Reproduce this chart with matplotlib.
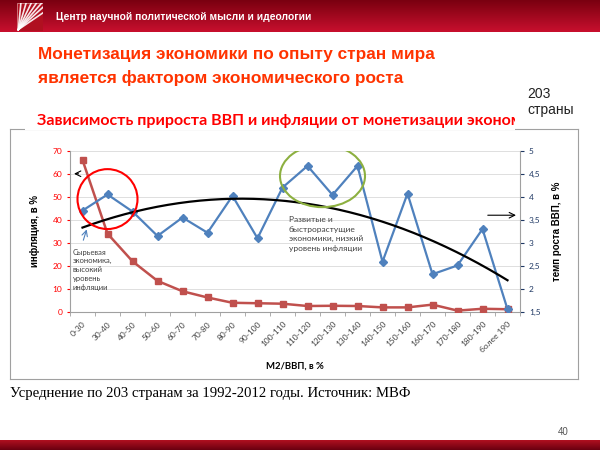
import numpy as np
import matplotlib
matplotlib.use("Agg")
import matplotlib.pyplot as plt
import matplotlib.patches as patches

plt.rcParams['font.family'] = ['Liberation Sans', 'DejaVu Sans']

# data
categories = ["0-30", "30-40", "40-50", "50-60", "60-70", "70-80", "80-90",
              "90-100", "100-110", "110-120", "120-130", "130-140", "140-150",
              "150-160", "160-170", "170-180", "180-190", "более 190"]
inflation = [66, 34, 22, 13.5, 9, 6.3, 4, 3.8, 3.6, 2.6, 2.7, 2.6, 2.0, 2.0,
             3.2, 0.6, 1.4, 1.2]
gdp_growth = [3.70, 4.05, 3.68, 3.15, 3.55, 3.22, 4.02, 3.10, 4.20, 4.67, 4.04,
              4.67, 2.59, 4.07, 2.32, 2.51, 3.30, 1.56]
left_ticks = [0, 10, 20, 30, 40, 50, 60, 70]
right_ticks = [1.5, 2, 2.5, 3, 3.5, 4, 4.5, 5]

W, H = 600, 450
RED = "#FF3300"
BLUE = "#4F81BD"
DARKRED = "#C0504D"
CAL = ["Lato", "DejaVu Sans"]


def fx(px):
    return px / W


def fy(py):
    return 1 - py / H


fig = plt.figure(figsize=(6, 4.5), dpi=100)
fig.patch.set_facecolor("white")

# header band with gradient
hdr = fig.add_axes([0, fy(32), 1, 32 / H])
grad = np.linspace(0, 1, 50).reshape(-1, 1)
hdr.imshow(grad, aspect="auto", cmap=matplotlib.colors.LinearSegmentedColormap.from_list(
    "h", ["#7A0010", "#C8102E"]), extent=[0, 1, 0, 1])
hdr.axis("off")
fig.text(fx(56), fy(17), "Центр научной политической мысли и идеологии",
         color="white", fontsize=7.4, fontweight="bold", va="center")
# logo
logo = fig.add_axes([fx(17), fy(31), 26 / W, 28 / H])
logo.set_xlim(0, 1)
logo.set_ylim(0, 1)
logo.add_patch(patches.Rectangle((0, 0), 1, 1, facecolor="#B01020",
                                 edgecolor="#E0A0A0", lw=0.5))
for a in np.linspace(0.15, 1.35, 7):
    logo.plot([0.05, min(a, 1)], [0.05, min(1, 1 - (a - 1)) if a > 1 else 1],
              color="white", lw=1.2, alpha=0.9)
logo.axis("off")

# bottom band
bot = fig.add_axes([0, 0, 1, 10 / H])
bot.imshow(grad[::-1], aspect="auto", cmap=matplotlib.colors.LinearSegmentedColormap.from_list(
    "b", ["#6A0010", "#B01020"]), extent=[0, 1, 0, 1])
bot.axis("off")

# titles
fig.text(fx(38), fy(55), "Монетизация экономики по опыту стран мира",
         color=RED, fontsize=12.4, fontweight="bold", va="center")
fig.text(fx(38), fy(78), "является фактором экономического роста",
         color=RED, fontsize=12.4, fontweight="bold", va="center")
fig.text(fx(527), fy(102), "203\nстраны", color="#222222", fontsize=10,
         va="center", linespacing=1.2)

# frame around chart
frame = fig.add_axes([fx(10), fy(379), 568 / W, 250 / H])
frame.set_xticks([])
frame.set_yticks([])
for s in frame.spines.values():
    s.set_color("#A0A0A0")
    s.set_linewidth(0.8)
frame.patch.set_alpha(0)

# subtitle clipped at the right edge
sub = fig.add_axes([0, fy(132), fx(515), 22 / H])
sub.axis("off")
sub.set_xlim(0, 515)
sub.set_ylim(0, 1)
sub.add_patch(patches.Rectangle((25, 0.1), 490, 0.9, facecolor="white",
                                edgecolor="none"))
sub.text(37, 0.5, "Зависимость прироста ВВП и инфляции от монетизации экономики",
         color="#FF0000", fontsize=11.5, fontweight="bold", va="center",
         family=CAL, clip_on=True)

# main chart
ax = fig.add_axes([fx(70), fy(312), 450 / W, 161.3 / H])
x = np.arange(len(categories))
ax.set_xlim(-0.5, len(categories) - 0.5)
ax.set_ylim(0, 70)
ax.set_yticks(left_ticks)
ax.yaxis.grid(True, color="#D9D9D9", lw=0.6)
ax.set_axisbelow(True)
ax.tick_params(axis="y", colors="#FF0000", labelsize=6, length=2)
for lab in ax.get_yticklabels():
    lab.set_family(CAL)
ax.set_xticks(x)
ax.set_xticklabels(categories, rotation=45, ha="right", rotation_mode="anchor",
                   fontsize=6, color="#404040", family=CAL)
ax.set_xticks(np.arange(-0.5, len(categories), 1), minor=True)
ax.tick_params(axis="x", which="major", length=0, pad=6)
ax.tick_params(axis="x", which="minor", length=3, color="#A0A0A0")
for s in ["top", "right"]:
    ax.spines[s].set_visible(False)
ax.spines["left"].set_color("#A0A0A0")
ax.spines["bottom"].set_color("#A0A0A0")
ax.set_ylabel("инфляция, в %", fontsize=7, fontweight="bold", labelpad=9)
ax.set_xlabel("M2/ВВП, в %", fontsize=6.8, fontweight="bold",
              family=CAL, labelpad=6)

ax.plot(x, inflation, color=DARKRED, lw=1.8, marker="s", markersize=5,
        zorder=3)

ax2 = ax.twinx()
ax2.set_ylim(1.5, 5)
ax2.set_yticks(right_ticks)
ax2.set_yticklabels([str(t).replace(".", ",").replace(",0", "") for t in right_ticks])
ax2.tick_params(axis="y", colors="#1F3864", labelsize=6, length=3)
for lab in ax2.get_yticklabels():
    lab.set_family(CAL)
for s in ["top", "left", "bottom"]:
    ax2.spines[s].set_visible(False)
ax2.spines["right"].set_color("#A0A0A0")
ax2.set_ylabel("темп роста ВВП, в %", fontsize=7, fontweight="bold",
               labelpad=8)
ax2.plot(x, gdp_growth, color=BLUE, lw=1.6, marker="D", markersize=4, zorder=3)

# polynomial trendline of GDP growth
coef = np.polyfit(x, gdp_growth, 2)
xs = np.linspace(0, len(categories) - 1, 200)
ax2.plot(xs, np.polyval(coef, xs), color="black", lw=1.6, zorder=4)

# annotations
ax2.add_patch(patches.Ellipse((1, 3.95), 2.4, 1.3, fill=False,
                              edgecolor="#FF0000", lw=1.5, zorder=5))
ax2.add_patch(patches.Ellipse((9.6, 4.45), 3.4, 1.35, fill=False,
                              edgecolor="#8DB040", lw=1.5, zorder=5))
ax.annotate("", xy=(-0.45, 60), xytext=(-0.05, 60),
            arrowprops=dict(arrowstyle="->", color="black", lw=0.8))
ax2.annotate("", xy=(17.45, 3.6), xytext=(16.1, 3.6),
             arrowprops=dict(arrowstyle="->", color="black", lw=0.8))
ax.annotate("", xy=(0.2, 37), xytext=(0, 30),
            arrowprops=dict(arrowstyle="->", color="#4F81BD", lw=0.8))
ax.text(-0.4, 27.5, "Сырьевая\nэкономика,\nвысокий\nуровень\nинфляции",
        fontsize=5.5, color="#404040", va="top", linespacing=1.3,
        family=CAL)
ax.text(8.25, 41.5, "Развитые и\nбыстрорастущие\nэкономики, низкий\nуровень инфляции",
        fontsize=6, color="#404040", va="top", linespacing=1.4,
        family=CAL)

# footnote and page number
fig.text(fx(10), fy(393), "Усреднение по 203 странам за 1992-2012 годы. Источник: МВФ",
         fontsize=10.6, family=["Liberation Serif", "DejaVu Serif"], va="center")
fig.text(fx(558), fy(432), "40", fontsize=7, color="#555555", va="center")

fig.savefig("out.png", dpi=100)
